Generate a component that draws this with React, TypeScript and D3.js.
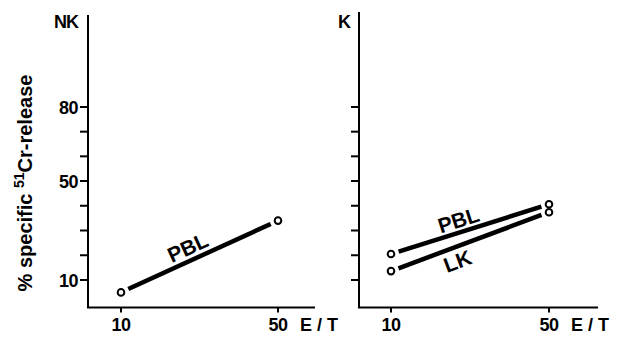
import React, { useEffect, useRef } from 'react';
import * as d3 from 'd3';

// E/T ratios
const ratios = [10, 50];
// y ticks (labelled and minor)
const yTicks = [10, 20, 30, 40, 50, 60, 70, 80];
const yTickLabels = [10, 50, 80];

// NK panel
const nkPBL = [5, 34];
// K panel
const kPBL = [20.5, 40.6];
const kLK = [13.6, 37.4];

const FONT = '"Liberation Sans", Arial, sans-serif';

const App = () => {
  const ref = useRef(null);

  useEffect(() => {
    const svg = d3.select(ref.current);
    svg.selectAll('*').remove();

    // scale is not linear: 80-50 and 50-10 get the same spacing per tick
    const y = d3.scaleLinear().domain([10, 50, 80]).range([280, 181, 107]);
    const baseY = 307.5;

    const panels = [
      { ox: 88, top: 15, end: 315, range: [121, 278], title: 'NK', titleX: 78, labels: true,
        series: [{ name: 'PBL', values: nkPBL, t: 0.46, off: -13 }] },
      { ox: 359, top: 12, end: 598, range: [391, 549], title: 'K', titleX: 350, labels: false,
        series: [
          { name: 'PBL', values: kPBL, t: 0.45, off: -12 },
          { name: 'LK', values: kLK, t: 0.39, off: 14 },
        ] },
    ];

    const txt = (sel, size) =>
      sel.style('font-family', FONT).style('font-size', size + 'px').style('font-weight', 700);

    panels.forEach(p => {
      const x = d3.scaleLinear().domain(ratios).range(p.range);
      const g = svg.append('g');

      g.append('line').attr('x1', p.ox).attr('x2', p.ox).attr('y1', p.top).attr('y2', baseY)
        .attr('stroke', '#000').attr('stroke-width', 2);
      g.append('line').attr('x1', p.ox - 1).attr('x2', p.end).attr('y1', baseY).attr('y2', baseY)
        .attr('stroke', '#000').attr('stroke-width', 2);

      g.selectAll('.yt').data(yTicks).enter().append('line')
        .attr('x1', p.ox - 8).attr('x2', p.ox)
        .attr('y1', d => y(d)).attr('y2', d => y(d))
        .attr('stroke', '#000').attr('stroke-width', 2);

      if (p.labels) {
        txt(g.selectAll('.yl').data(yTickLabels).enter().append('text')
          .attr('x', p.ox - 10).attr('y', d => y(d) + 7)
          .attr('text-anchor', 'end'), 18)
          .style('letter-spacing', '-0.5px')
          .text(d => d);
      }

      g.selectAll('.xt').data(ratios).enter().append('line')
        .attr('x1', d => x(d)).attr('x2', d => x(d))
        .attr('y1', baseY).attr('y2', baseY + 5)
        .attr('stroke', '#000').attr('stroke-width', 2);

      txt(g.selectAll('.xl').data(ratios).enter().append('text')
        .attr('x', d => x(d)).attr('y', 331)
        .attr('text-anchor', 'middle'), 18)
        .style('letter-spacing', '-0.5px')
        .text(d => d);

      txt(g.append('text').attr('x', x(50) + 22).attr('y', 331), 18)
        .text('E / T');

      txt(g.append('text').attr('x', p.titleX).attr('y', 28).attr('text-anchor', 'end'), 18)
        .style('letter-spacing', '-1px')
        .text(p.title);

      p.series.forEach(s => {
        const pts = ratios.map((r, i) => [x(r), y(s.values[i])]);
        const [x0, y0] = pts[0];
        const [x1, y1] = pts[1];
        const len = Math.hypot(x1 - x0, y1 - y0);
        const ux = (x1 - x0) / len;
        const uy = (y1 - y0) / len;
        const gap = 8;
        g.append('line')
          .attr('x1', x0 + ux * gap).attr('y1', y0 + uy * gap)
          .attr('x2', x1 - ux * gap).attr('y2', y1 - uy * gap)
          .attr('stroke', '#000').attr('stroke-width', 4.5);

        g.selectAll('.pt' + s.name).data(pts).enter().append('circle')
          .attr('cx', d => d[0]).attr('cy', d => d[1]).attr('r', 3.3)
          .attr('fill', '#fff').attr('stroke', '#000').attr('stroke-width', 2);

        const angle = (Math.atan2(y1 - y0, x1 - x0) * 180) / Math.PI;
        const lx = x0 + (x1 - x0) * s.t - uy * s.off;
        const ly = y0 + (y1 - y0) * s.t + ux * s.off;
        txt(g.append('text')
          .attr('transform', `translate(${lx},${ly}) rotate(${angle})`)
          .attr('text-anchor', 'middle').attr('dy', '0.35em'), 21)
          .text(s.name);
      });
    });

    const yl = txt(svg.append('text')
      .attr('transform', 'translate(32,183) rotate(-90)')
      .attr('text-anchor', 'middle'), 20);
    yl.append('tspan').text('% specific ');
    yl.append('tspan').attr('dy', -8).style('font-size', '14px').text('51');
    yl.append('tspan').attr('dy', 8).text('Cr-release');
  }, []);

  return (
    <svg ref={ref} width={620} height={342}
      style={{ position: 'absolute', left: 0, top: 0, background: '#fff' }} />
  );
};

export default App;
